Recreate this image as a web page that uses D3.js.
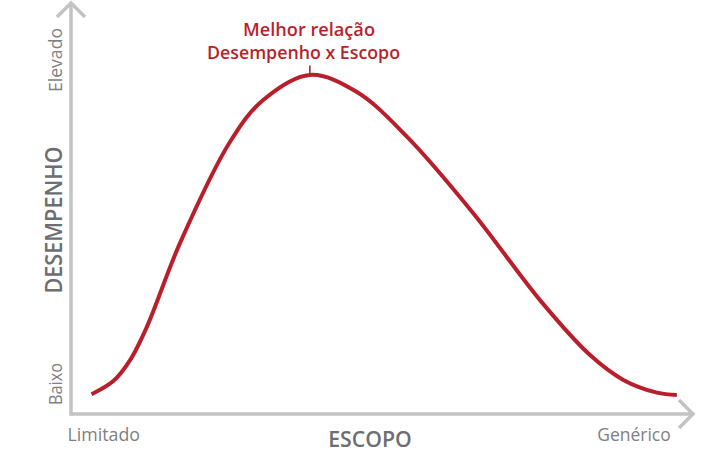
<!DOCTYPE html>
<html><head><meta charset="utf-8">
<script src="https://cdn.jsdelivr.net/npm/d3@7"></script>
<style>html,body{margin:0;padding:0;background:#fff;}svg{display:block;}</style>
</head><body>
<svg id="chart" width="727" height="458"></svg>
<script>
// Data (x: escopo 0-100, y: desempenho 0-100)
const scopeValues = [3.3, 6.8, 9.5, 12.2, 17.5, 25.6, 30.9, 38.4, 45.9, 54.0, 64.7, 75.4, 83.4, 88.8, 94.2, 97.4];
const performanceValues = [4.8, 8.0, 13.1, 21.2, 41.5, 66.3, 76.4, 82.5, 78.4, 67.5, 48.8, 27.7, 14.4, 8.3, 5.2, 4.6];
const xTickLabels = ["Limitado", "Genérico"];
const yTickLabels = ["Baixo", "Elevado"];
const xAxisTitle = "ESCOPO";
const yAxisTitle = "DESEMPENHO";
const annotationLines = ["Melhor relação", "Desempenho x Escopo"];

const svg = d3.select("#chart");
const x = d3.scaleLinear().domain([0, 100]).range([71, 693]);
const y = d3.scaleLinear().domain([0, 100]).range([414, 3]);

const axisColor = "#c3c3c4";
const red = "#b91f2b";
const gray = "#808080";
const dark = "#6d6e71";

// axes
svg.append("line").attr("x1", x(0)).attr("x2", x(100)).attr("y1", y(0)).attr("y2", y(0))
  .attr("stroke", axisColor).attr("stroke-width", 3.5);
svg.append("line").attr("x1", x(0)).attr("x2", x(0)).attr("y1", y(0) + 1.75).attr("y2", y(100))
  .attr("stroke", axisColor).attr("stroke-width", 3.5);
// arrowheads
svg.append("path").attr("d", `M${x(0)-14},${y(100)+14}L${x(0)},${y(100)}L${x(0)+14},${y(100)+14}`)
  .attr("fill", "none").attr("stroke", axisColor).attr("stroke-width", 3.5);
svg.append("path").attr("d", `M${x(100)-14},${y(0)-14}L${x(100)},${y(0)}L${x(100)-14},${y(0)+14}`)
  .attr("fill", "none").attr("stroke", axisColor).attr("stroke-width", 3.5);

// curve
const pts = scopeValues.map((v, i) => [v, performanceValues[i]]);
const line = d3.line().x(d => x(d[0])).y(d => y(d[1])).curve(d3.curveCatmullRom.alpha(0.5));
svg.append("path").datum(pts).attr("d", line).attr("fill", "none")
  .attr("stroke", red).attr("stroke-width", 4).attr("stroke-linecap", "butt");

// peak marker
const peakIdx = d3.maxIndex(performanceValues);
const px = x(scopeValues[peakIdx]), py = y(performanceValues[peakIdx]);
svg.append("line").attr("x1", px).attr("x2", px).attr("y1", py - 2).attr("y2", py - 9.5)
  .attr("stroke", red).attr("stroke-width", 1.6);

function fitText(sel, len) {
  sel.attr("textLength", len).attr("lengthAdjust", "spacingAndGlyphs");
  return sel;
}

// annotation
fitText(svg.append("text").attr("x", 309).attr("y", 36).attr("text-anchor", "middle")
  .attr("font-family", "Open Sans").attr("font-weight", 600).attr("font-size", 18)
  .attr("fill", red).text(annotationLines[0]), 132);
fitText(svg.append("text").attr("x", 303.5).attr("y", 59.3).attr("text-anchor", "middle")
  .attr("font-family", "Open Sans").attr("font-weight", 600).attr("font-size", 18)
  .attr("fill", red).text(annotationLines[1]), 193);

// x tick labels
fitText(svg.append("text").attr("x", 67.5).attr("y", 440.7).attr("text-anchor", "start")
  .attr("font-family", "Open Sans").attr("font-size", 18).attr("fill", gray).text(xTickLabels[0]), 72.5);
fitText(svg.append("text").attr("x", 670.7).attr("y", 440.7).attr("text-anchor", "end")
  .attr("font-family", "Open Sans").attr("font-size", 18).attr("fill", gray).text(xTickLabels[1]), 73.4);
// x title
fitText(svg.append("text").attr("x", 370).attr("y", 446.7).attr("text-anchor", "middle")
  .attr("font-family", "Open Sans").attr("font-weight", 600).attr("font-size", 21).attr("fill", dark).text(xAxisTitle), 83.5);

// y tick labels (rotated)
fitText(svg.append("text").attr("transform", "translate(61.7,405) rotate(-90)").attr("text-anchor", "start")
  .attr("font-family", "Open Sans").attr("font-size", 19).attr("fill", gray).text(yTickLabels[0]), 42);
fitText(svg.append("text").attr("transform", "translate(61.7,92) rotate(-90)").attr("text-anchor", "start")
  .attr("font-family", "Open Sans").attr("font-size", 19).attr("fill", gray).text(yTickLabels[1]), 64);
// y title
fitText(svg.append("text").attr("transform", "translate(61.7,220) rotate(-90)").attr("text-anchor", "middle")
  .attr("font-family", "Open Sans").attr("font-weight", 600).attr("font-size", 24).attr("fill", dark).text(yAxisTitle), 147);
</script>
</body></html>
